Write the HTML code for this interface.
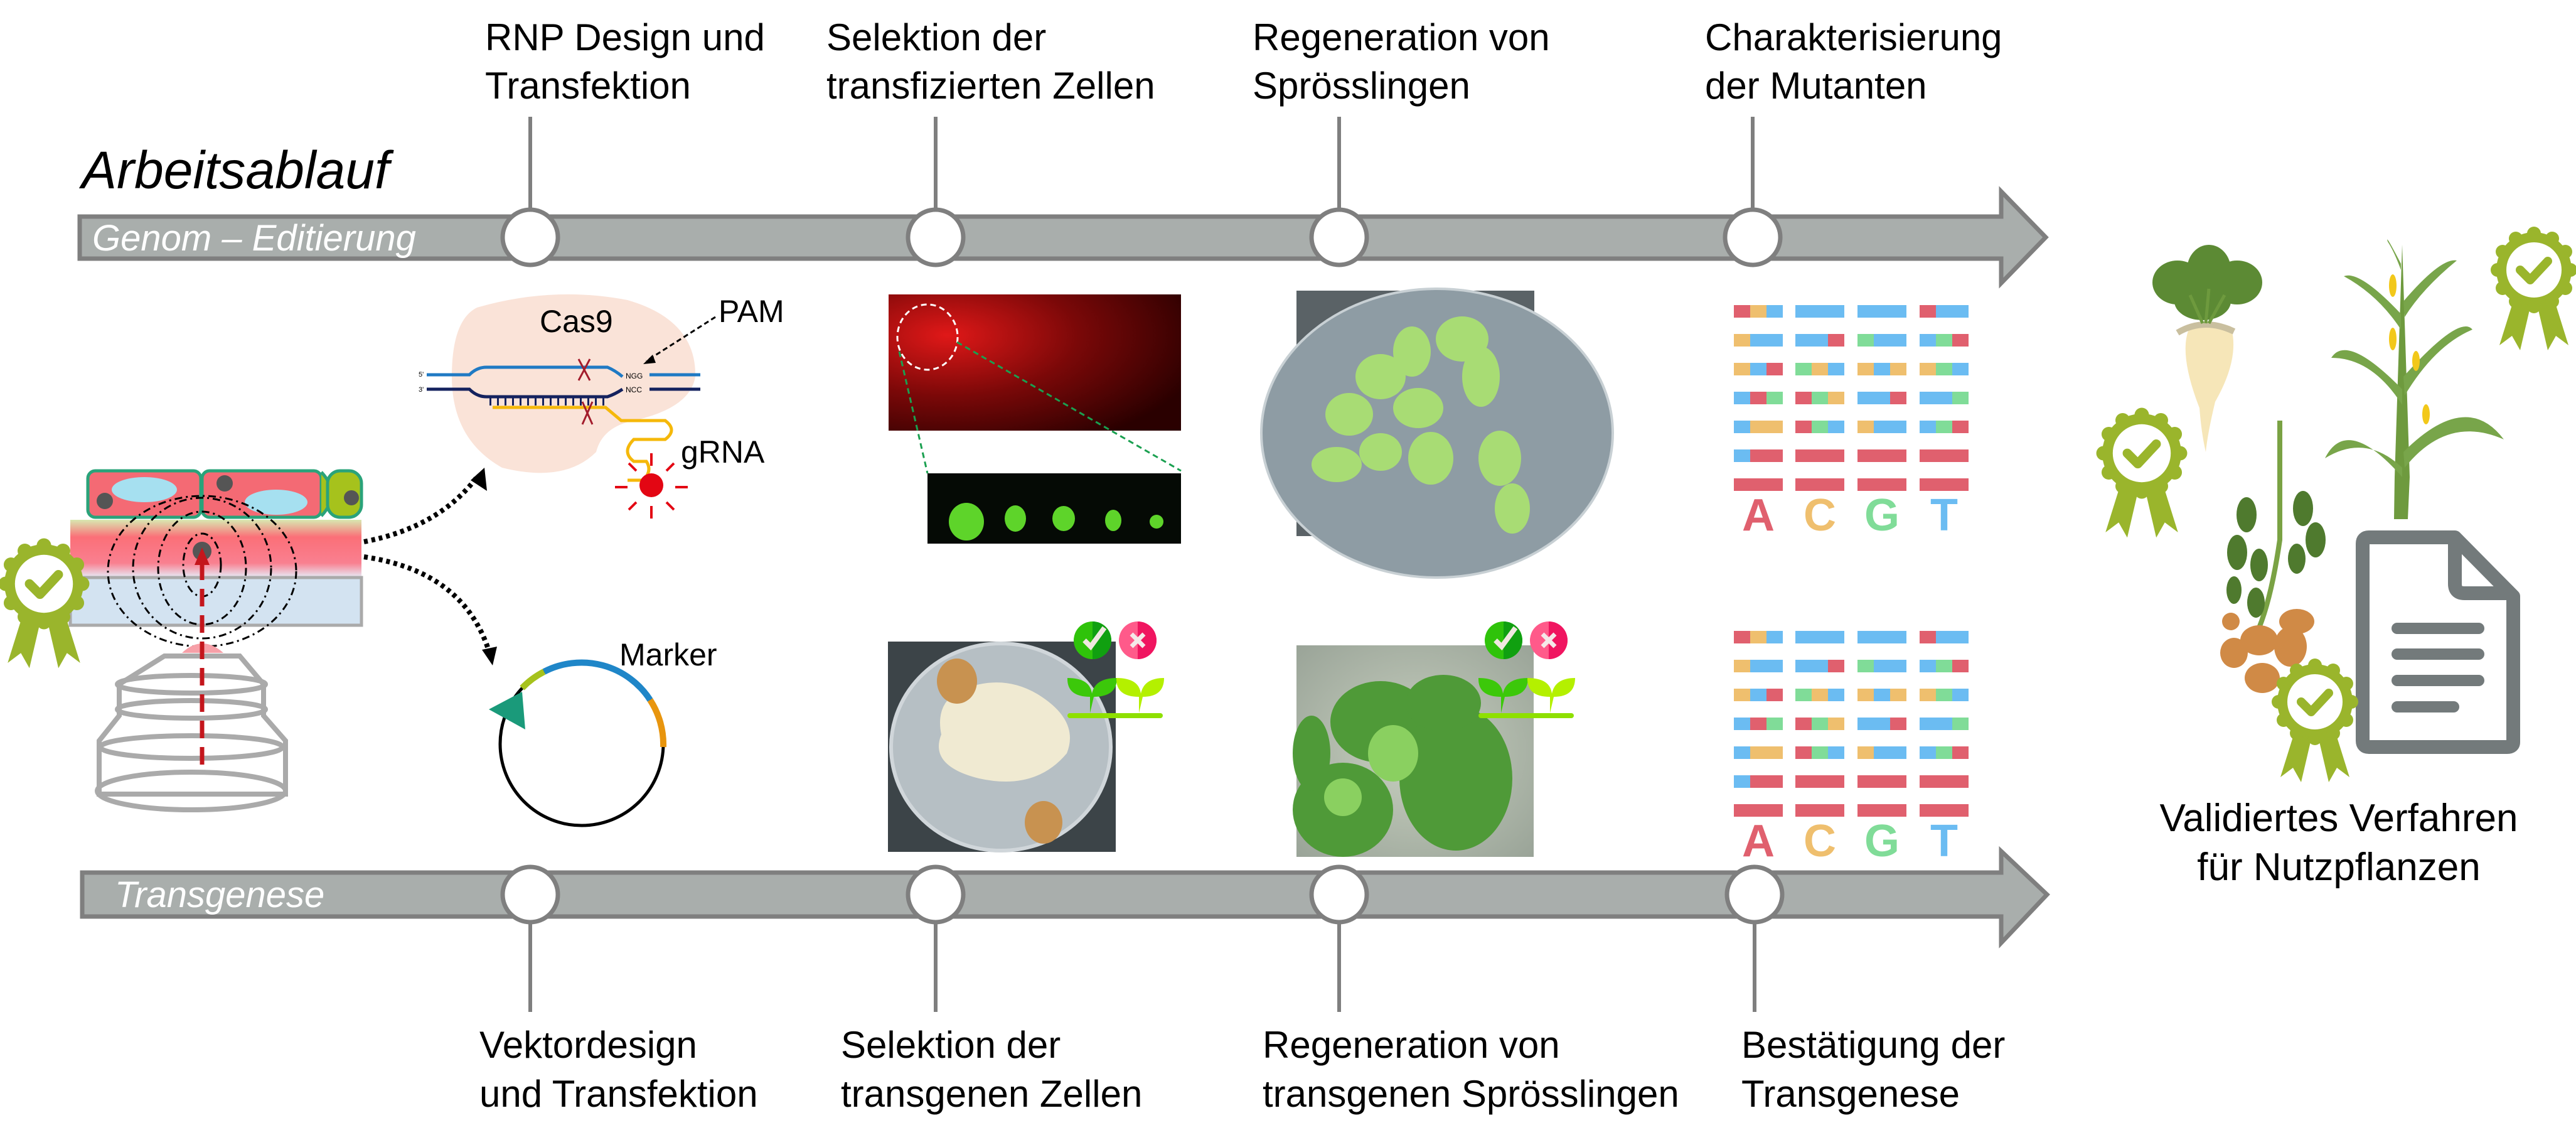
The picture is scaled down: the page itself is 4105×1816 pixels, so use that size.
<!DOCTYPE html>
<html><head><meta charset="utf-8"><style>
html,body{margin:0;padding:0;background:#fff}
svg{display:block}
text{font-family:"Liberation Sans",sans-serif}
</style></head><body>
<svg width="4105" height="1816" viewBox="0 0 4105 1816" xmlns="http://www.w3.org/2000/svg">
<defs>
<g id="ros">
  <g fill="#9ab52c">
    <polygon points="-30,40 -55,120 -35,105 -22,128 -5,55"/>
    <polygon points="30,40 55,120 35,105 22,128 5,55"/>
    <circle r="60"/>
    <circle cx="0" cy="-58" r="11"/><circle cx="29" cy="-50" r="11"/><circle cx="50" cy="-29" r="11"/><circle cx="58" cy="0" r="11"/>
    <circle cx="50" cy="29" r="11"/><circle cx="29" cy="50" r="11"/><circle cx="0" cy="58" r="11"/><circle cx="-29" cy="50" r="11"/>
    <circle cx="-50" cy="29" r="11"/><circle cx="-58" cy="0" r="11"/><circle cx="-50" cy="-29" r="11"/><circle cx="-29" cy="-50" r="11"/>
  </g>
  <circle r="44" fill="#fff"/>
  <polyline points="-22,0 -6,16 22,-14" fill="none" stroke="#9ab52c" stroke-width="14" stroke-linecap="round" stroke-linejoin="round"/>
</g>
</defs>

<text x="130" y="300" font-size="84" font-style="italic">Arbeitsablauf</text>

<polygon points="127,345 3189,345 3189,305 3260,378 3189,451 3189,412 127,412" fill="#a9aeac" stroke="#7f7f7f" stroke-width="7"/>
<text x="147" y="399" font-size="58" font-style="italic" fill="#fff">Genom – Editierung</text>
<polygon points="131,1390 3189,1390 3189,1356 3262,1425 3189,1502 3189,1460 131,1460" fill="#a9aeac" stroke="#7f7f7f" stroke-width="7"/>
<text x="183" y="1445" font-size="58" font-style="italic" fill="#fff">Transgenese</text>

<g stroke="#7f7f7f" stroke-width="6">
  <line x1="845" y1="186" x2="845" y2="335"/><line x1="1491" y1="186" x2="1491" y2="335"/>
  <line x1="2134" y1="186" x2="2134" y2="335"/><line x1="2793" y1="186" x2="2793" y2="335"/>
  <line x1="845" y1="1470" x2="845" y2="1612"/><line x1="1491" y1="1470" x2="1491" y2="1612"/>
  <line x1="2134" y1="1470" x2="2134" y2="1612"/><line x1="2796" y1="1470" x2="2796" y2="1612"/>
</g>
<g fill="#fff" stroke="#7f7f7f" stroke-width="7">
  <circle cx="845" cy="378" r="44"/><circle cx="1491" cy="378" r="44"/><circle cx="2134" cy="378" r="44"/><circle cx="2793" cy="378" r="44"/>
  <circle cx="845" cy="1425" r="44"/><circle cx="1491" cy="1425" r="44"/><circle cx="2134" cy="1425" r="44"/><circle cx="2796" cy="1425" r="44"/>
</g>

<g font-size="60" fill="#000">
  <text x="773" y="80">RNP Design und</text><text x="773" y="157">Transfektion</text>
  <text x="1317" y="80">Selektion der</text><text x="1317" y="157">transfizierten Zellen</text>
  <text x="1996" y="80">Regeneration von</text><text x="1996" y="157">Sprösslingen</text>
  <text x="2717" y="80">Charakterisierung</text><text x="2717" y="157">der Mutanten</text>
  <text x="764" y="1685">Vektordesign</text><text x="764" y="1763">und Transfektion</text>
  <text x="1340" y="1685">Selektion der</text><text x="1340" y="1763">transgenen Zellen</text>
  <text x="2012" y="1685">Regeneration von</text><text x="2012" y="1763">transgenen Sprösslingen</text>
  <text x="2775" y="1685">Bestätigung der</text><text x="2775" y="1763">Transgenese</text>
</g>

<rect x="140" y="750" width="180" height="74" rx="12" fill="#f46a74" stroke="#2aa37a" stroke-width="5"/>
<rect x="322" y="750" width="190" height="74" rx="12" fill="#f46a74" stroke="#2aa37a" stroke-width="5"/>
<path d="M512,752 Q545,787 512,822" fill="#a6c21c" stroke="#2aa37a" stroke-width="5"/>
<rect x="522" y="750" width="54" height="74" rx="20" fill="#a6c21c" stroke="#2aa37a" stroke-width="5"/>
<circle cx="560" cy="793" r="12" fill="#555"/>
<ellipse cx="230" cy="780" rx="52" ry="20" fill="#a6e0f0"/>
<ellipse cx="440" cy="800" rx="50" ry="20" fill="#a6e0f0"/>
<circle cx="167" cy="798" r="13" fill="#555"/><circle cx="358" cy="770" r="13" fill="#555"/>
<defs><linearGradient id="pk" x1="0" y1="0" x2="0" y2="1"><stop offset="0" stop-color="#d8e8b0"/><stop offset="0.3" stop-color="#fb6f78"/><stop offset="0.75" stop-color="#f98090"/><stop offset="1" stop-color="#e6ecf8"/></linearGradient></defs>
<rect x="112" y="828" width="464" height="92" fill="url(#pk)"/>
<rect x="112" y="920" width="464" height="76" fill="#d3e3f1" stroke="#aaa" stroke-width="5"/>
<g fill="none" stroke="#000" stroke-width="3" stroke-dasharray="12,6,3,6">
  <ellipse cx="322" cy="900" rx="30" ry="50"/><ellipse cx="322" cy="905" rx="70" ry="90"/><ellipse cx="322" cy="905" rx="110" ry="112"/><ellipse cx="322" cy="910" rx="150" ry="120"/>
</g>
<circle cx="322" cy="878" r="15" fill="#555"/>
<path d="M290,1040 Q322,1010 356,1040 Z" fill="#f7a0a8"/>
<g fill="none" stroke="#aaa" stroke-width="8">
  <path d="M262,1045 L382,1045 L420,1090 L420,1140 L455,1180 L455,1265 L158,1265 L158,1180 L190,1140 L190,1090 Z"/>
  <ellipse cx="305" cy="1090" rx="118" ry="14"/><ellipse cx="305" cy="1130" rx="118" ry="14"/>
  <ellipse cx="305" cy="1190" rx="145" ry="18"/><ellipse cx="305" cy="1260" rx="150" ry="30"/>
</g>
<line x1="322" y1="1218" x2="322" y2="890" stroke="#c4161c" stroke-width="7" stroke-dasharray="28,14"/>
<polygon points="310,900 334,900 322,872" fill="#c4161c"/>
<use href="#ros" transform="translate(70,930) scale(1.05)"/>

<path d="M580,863 Q700,840 760,760" fill="none" stroke="#000" stroke-width="8" stroke-dasharray="6,6"/>
<polygon points="750,765 772,745 776,782" fill="#000"/>
<path d="M580,887 Q740,910 780,1040" fill="none" stroke="#000" stroke-width="8" stroke-dasharray="6,6"/>
<polygon points="768,1035 792,1030 785,1060" fill="#000"/>

<path d="M760,490 Q880,455 1000,478 Q1110,510 1108,600 Q1100,650 1010,670 Q960,680 950,720 Q900,770 800,745 Q720,700 720,600 Q720,510 760,490 Z" fill="#fae3d8"/>
<text x="860" y="529" font-size="50">Cas9</text>
<text x="1145" y="513" font-size="50">PAM</text>
<text x="1085" y="737" font-size="50">gRNA</text>
<line x1="1140" y1="505" x2="1030" y2="575" stroke="#000" stroke-width="3" stroke-dasharray="8,5"/>
<polygon points="1025,580 1040,565 1045,578" fill="#000"/>
<path d="M680,597 L748,597 Q760,585 775,585 L968,585 Q980,590 992,600" fill="none" stroke="#1f7ac4" stroke-width="5"/>
<line x1="1035" y1="597" x2="1116" y2="597" stroke="#1f7ac4" stroke-width="5"/>
<path d="M680,620 L748,620 Q760,632 775,632 L968,632 Q980,628 992,620" fill="none" stroke="#14225e" stroke-width="5"/>
<line x1="1035" y1="620" x2="1116" y2="620" stroke="#14225e" stroke-width="5"/>
<line x1="780" y1="640" x2="965" y2="640" stroke="#14225e" stroke-width="12" stroke-dasharray="3,9"/>
<path d="M785,649 L965,649 L990,670 L1050,670" fill="none" stroke="#f5b80a" stroke-width="5"/>
<path d="M1050,670 L1060,670 Q1080,685 1060,700 L1010,700 Q990,720 1010,735 L1030,735 Q1040,750 1025,765 L1000,765" fill="none" stroke="#f5b80a" stroke-width="5"/>
<text x="667" y="600" font-size="11">5'</text><text x="667" y="624" font-size="11">3'</text>
<text x="997" y="603" font-size="12">NGG</text><text x="997" y="625" font-size="12">NCC</text>
<g stroke="#a31c2c" stroke-width="3"><line x1="922" y1="572" x2="940" y2="606"/><line x1="940" y1="572" x2="922" y2="606"/><line x1="928" y1="640" x2="944" y2="676"/><line x1="944" y1="640" x2="928" y2="676"/></g>
<circle cx="1038" cy="773" r="19" fill="#e30613"/>
<g stroke="#e30613" stroke-width="4">
  <line x1="980" y1="776" x2="1000" y2="776"/><line x1="1076" y1="776" x2="1096" y2="776"/>
  <line x1="1038" y1="722" x2="1038" y2="742"/><line x1="1038" y1="806" x2="1038" y2="826"/>
  <line x1="1002" y1="738" x2="1014" y2="750"/><line x1="1074" y1="738" x2="1062" y2="750"/>
  <line x1="1002" y1="812" x2="1014" y2="800"/><line x1="1074" y1="812" x2="1062" y2="800"/>
</g>

<circle cx="927" cy="1185" r="130" fill="none" stroke="#000" stroke-width="5"/>
<path d="M832,1096 A130,130 0 0 1 867,1070" fill="none" stroke="#a6c21c" stroke-width="10"/>
<path d="M867,1070 A130,130 0 0 1 1036,1115" fill="none" stroke="#1f86c8" stroke-width="10"/>
<path d="M1036,1115 A130,130 0 0 1 1057,1190" fill="none" stroke="#e8950e" stroke-width="10"/>
<polygon points="779,1130 832,1102 837,1162" fill="#1a9a7a"/>
<text x="987" y="1060" font-size="50">Marker</text>

<defs>
<radialGradient id="red" cx="0.2" cy="0.3" r="0.9"><stop offset="0" stop-color="#e01818"/><stop offset="0.5" stop-color="#7a0808"/><stop offset="1" stop-color="#2a0000"/></radialGradient>
<radialGradient id="dish" cx="0.5" cy="0.5" r="0.7"><stop offset="0" stop-color="#a8b2b8"/><stop offset="1" stop-color="#6c767c"/></radialGradient>
<radialGradient id="dish2" cx="0.5" cy="0.5" r="0.7"><stop offset="0" stop-color="#c8d0c0"/><stop offset="1" stop-color="#9aa498"/></radialGradient>
</defs>
<rect x="1416" y="469" width="466" height="217" fill="url(#red)"/>
<ellipse cx="1478" cy="537" rx="48" ry="52" fill="none" stroke="#fff" stroke-width="3" stroke-dasharray="9,6"/>
<line x1="1433" y1="560" x2="1478" y2="754" stroke="#1aa050" stroke-width="3" stroke-dasharray="9,6"/>
<line x1="1525" y1="545" x2="1882" y2="750" stroke="#1aa050" stroke-width="3" stroke-dasharray="9,6"/>
<rect x="1478" y="754" width="404" height="112" fill="#050a05"/>
<g fill="#5ed42a"><ellipse cx="1540" cy="831" rx="28" ry="30"/><ellipse cx="1618" cy="826" rx="17" ry="21"/><ellipse cx="1695" cy="826" rx="18" ry="20"/><ellipse cx="1774" cy="829" rx="13" ry="17"/><ellipse cx="1843" cy="831" rx="11" ry="11"/></g>

<rect x="2066" y="463" width="379" height="391" fill="#5a6266"/>
<ellipse cx="2290" cy="690" rx="280" ry="230" fill="#8e9ca4" stroke="#c8d0d4" stroke-width="4"/>
<g fill="#a8dc74">
<ellipse cx="2200" cy="600" rx="40" ry="36"/><ellipse cx="2150" cy="660" rx="38" ry="34"/><ellipse cx="2250" cy="560" rx="30" ry="40"/>
<ellipse cx="2330" cy="540" rx="42" ry="36"/><ellipse cx="2360" cy="600" rx="30" ry="48"/><ellipse cx="2260" cy="650" rx="40" ry="32"/>
<ellipse cx="2200" cy="720" rx="34" ry="30"/><ellipse cx="2130" cy="740" rx="40" ry="28"/><ellipse cx="2280" cy="730" rx="36" ry="42"/>
<ellipse cx="2390" cy="730" rx="34" ry="44"/><ellipse cx="2410" cy="810" rx="28" ry="40"/>
</g>

<rect x="1415" y="1022" width="363" height="335" fill="#3c4448"/>
<ellipse cx="1595" cy="1190" rx="175" ry="165" fill="#b6bfc4" stroke="#d0d6da" stroke-width="6"/>
<path d="M1530,1100 Q1600,1070 1660,1110 Q1720,1150 1700,1200 Q1650,1260 1560,1240 Q1480,1220 1500,1170 Q1490,1120 1530,1100Z" fill="#f0ead2"/>
<ellipse cx="1525" cy="1085" rx="32" ry="36" fill="#c89250"/>
<ellipse cx="1663" cy="1310" rx="30" ry="34" fill="#c89250"/>

<rect x="2066" y="1028" width="378" height="337" fill="url(#dish2)"/>
<g fill="#4f9a38"><ellipse cx="2200" cy="1150" rx="80" ry="65"/><ellipse cx="2140" cy="1290" rx="80" ry="75"/><ellipse cx="2320" cy="1240" rx="90" ry="115"/><ellipse cx="2300" cy="1120" rx="60" ry="45"/><ellipse cx="2090" cy="1200" rx="30" ry="60"/></g>
<g fill="#8ad060"><ellipse cx="2220" cy="1200" rx="40" ry="45"/><ellipse cx="2140" cy="1270" rx="30" ry="30"/></g>

<g id="icons">
<circle cx="1741" cy="1020" r="30" fill="#2fc30a"/><path d="M1741,990 A30,30 0 0 1 1741,1050 Z" fill="#10a010"/>
<polyline points="1728,1020 1738,1030 1760,1000" fill="none" stroke="#f0e8e0" stroke-width="8"/>
<circle cx="1813" cy="1020" r="30" fill="#ff5a8a"/><path d="M1813,990 A30,30 0 0 1 1813,1050 Z" fill="#f01560"/>
<g stroke="#f4e8e8" stroke-width="7"><line x1="1803" y1="1010" x2="1823" y2="1030"/><line x1="1823" y1="1010" x2="1803" y2="1030"/></g>
<rect x="1701" y="1136" width="152" height="8" rx="4" fill="#8ee000"/>
<path d="M1737,1136 L1737,1110 Q1700,1110 1701,1080 Q1737,1080 1740,1105 Q1745,1080 1780,1080 Q1780,1110 1743,1110" fill="#3cc80a"/>
<path d="M1815,1136 L1815,1110 Q1778,1110 1779,1080 Q1815,1080 1818,1105 Q1823,1080 1855,1080 Q1855,1110 1821,1110" fill="#b4f000"/>
</g>
<use href="#icons" transform="translate(655,0)"/>

<g id="grid1">
<g transform="translate(0,486)">
<rect x="2763" y="0" width="26" height="20" fill="#e0606e"/><rect x="2789" y="0" width="26" height="20" fill="#efbf6e"/><rect x="2815" y="0" width="26" height="20" fill="#6bbcf2"/>
<rect x="2861" y="0" width="78" height="20" fill="#6bbcf2"/><rect x="2960" y="0" width="78" height="20" fill="#6bbcf2"/>
<rect x="3059" y="0" width="26" height="20" fill="#e0606e"/><rect x="3085" y="0" width="52" height="20" fill="#6bbcf2"/>
</g>
<g transform="translate(0,532)">
<rect x="2763" y="0" width="26" height="20" fill="#efbf6e"/><rect x="2789" y="0" width="52" height="20" fill="#6bbcf2"/>
<rect x="2861" y="0" width="52" height="20" fill="#6bbcf2"/><rect x="2913" y="0" width="26" height="20" fill="#e0606e"/>
<rect x="2960" y="0" width="26" height="20" fill="#80dc98"/><rect x="2986" y="0" width="52" height="20" fill="#6bbcf2"/>
<rect x="3059" y="0" width="26" height="20" fill="#6bbcf2"/><rect x="3085" y="0" width="26" height="20" fill="#80dc98"/><rect x="3111" y="0" width="26" height="20" fill="#e0606e"/>
</g>
<g transform="translate(0,578)">
<rect x="2763" y="0" width="26" height="20" fill="#efbf6e"/><rect x="2789" y="0" width="26" height="20" fill="#6bbcf2"/><rect x="2815" y="0" width="26" height="20" fill="#e0606e"/>
<rect x="2861" y="0" width="26" height="20" fill="#80dc98"/><rect x="2887" y="0" width="26" height="20" fill="#efbf6e"/><rect x="2913" y="0" width="26" height="20" fill="#6bbcf2"/>
<rect x="2960" y="0" width="26" height="20" fill="#efbf6e"/><rect x="2986" y="0" width="26" height="20" fill="#6bbcf2"/><rect x="3012" y="0" width="26" height="20" fill="#efbf6e"/>
<rect x="3059" y="0" width="26" height="20" fill="#efbf6e"/><rect x="3085" y="0" width="26" height="20" fill="#80dc98"/><rect x="3111" y="0" width="26" height="20" fill="#6bbcf2"/>
</g>
<g transform="translate(0,624)">
<rect x="2763" y="0" width="26" height="20" fill="#6bbcf2"/><rect x="2789" y="0" width="26" height="20" fill="#e0606e"/><rect x="2815" y="0" width="26" height="20" fill="#80dc98"/>
<rect x="2861" y="0" width="26" height="20" fill="#e0606e"/><rect x="2887" y="0" width="26" height="20" fill="#80dc98"/><rect x="2913" y="0" width="26" height="20" fill="#efbf6e"/>
<rect x="2960" y="0" width="52" height="20" fill="#6bbcf2"/><rect x="3012" y="0" width="26" height="20" fill="#e0606e"/>
<rect x="3059" y="0" width="52" height="20" fill="#6bbcf2"/><rect x="3111" y="0" width="26" height="20" fill="#80dc98"/>
</g>
<g transform="translate(0,670)">
<rect x="2763" y="0" width="26" height="20" fill="#6bbcf2"/><rect x="2789" y="0" width="52" height="20" fill="#efbf6e"/>
<rect x="2861" y="0" width="26" height="20" fill="#e0606e"/><rect x="2887" y="0" width="26" height="20" fill="#80dc98"/><rect x="2913" y="0" width="26" height="20" fill="#6bbcf2"/>
<rect x="2960" y="0" width="26" height="20" fill="#efbf6e"/><rect x="2986" y="0" width="52" height="20" fill="#6bbcf2"/>
<rect x="3059" y="0" width="26" height="20" fill="#6bbcf2"/><rect x="3085" y="0" width="26" height="20" fill="#80dc98"/><rect x="3111" y="0" width="26" height="20" fill="#e0606e"/>
</g>
<g transform="translate(0,716)">
<rect x="2763" y="0" width="26" height="20" fill="#6bbcf2"/><rect x="2789" y="0" width="52" height="20" fill="#e0606e"/>
<rect x="2861" y="0" width="78" height="20" fill="#e0606e"/><rect x="2960" y="0" width="78" height="20" fill="#e0606e"/><rect x="3059" y="0" width="78" height="20" fill="#e0606e"/>
</g>
<g transform="translate(0,762)" fill="#e0606e">
<rect x="2763" y="0" width="78" height="20"/><rect x="2861" y="0" width="78" height="20"/><rect x="2960" y="0" width="78" height="20"/><rect x="3059" y="0" width="78" height="20"/>
</g>
<g font-size="72" font-weight="bold" text-anchor="middle">
<text x="2802" y="845" fill="#e0606e">A</text><text x="2900" y="845" fill="#efbf6e">C</text><text x="2999" y="845" fill="#80dc98">G</text><text x="3098" y="845" fill="#6bbcf2">T</text>
</g>
</g>
<use href="#grid1" transform="translate(0,519)"/>

<path d="M3505,650 Q3470,560 3490,520 Q3530,510 3555,520 Q3570,570 3530,640 Q3518,690 3515,720 Q3508,690 3505,650Z" fill="#f6e6b8"/>
<path d="M3470,530 Q3512,505 3560,528" fill="none" stroke="#c9bf9f" stroke-width="10"/>
<g fill="#5c8a34">
<ellipse cx="3470" cy="450" rx="40" ry="35"/><ellipse cx="3520" cy="430" rx="35" ry="40"/><ellipse cx="3565" cy="450" rx="40" ry="35"/><ellipse cx="3510" cy="480" rx="45" ry="30"/>
</g>
<g stroke="#6e9a3e" stroke-width="5"><line x1="3510" y1="515" x2="3490" y2="470"/><line x1="3515" y1="515" x2="3520" y2="460"/><line x1="3520" y1="515" x2="3545" y2="470"/></g>
<polygon points="3815,827 3837,827 3840,760 3828,390 3816,760" fill="#6e9a3e"/>
<g fill="#78a54a">
<path d="M3828,760 Q3740,660 3705,730 Q3770,690 3828,745Z"/>
<path d="M3830,720 Q3930,620 3990,700 Q3900,660 3832,745Z"/>
<path d="M3828,620 Q3740,530 3715,570 Q3780,570 3828,645Z"/>
<path d="M3830,600 Q3920,500 3940,525 Q3880,550 3832,630Z"/>
<path d="M3826,500 Q3760,430 3735,440 Q3790,470 3826,525Z"/>
<path d="M3830,480 Q3890,410 3915,415 Q3860,460 3832,505Z"/>
<path d="M3826,420 Q3800,370 3805,385 Q3815,400 3826,430Z"/>
</g>
<g fill="#f2c81a"><ellipse cx="3813" cy="455" rx="6" ry="18"/><ellipse cx="3813" cy="540" rx="6" ry="18"/><ellipse cx="3850" cy="575" rx="6" ry="16"/><ellipse cx="3866" cy="660" rx="6" ry="16"/></g>
<path d="M3633,670 L3633,860 Q3620,950 3600,1000" fill="none" stroke="#7aa244" stroke-width="8"/>
<g fill="#4f7a2e">
<ellipse cx="3580" cy="820" rx="16" ry="28"/><ellipse cx="3565" cy="880" rx="16" ry="28"/><ellipse cx="3600" cy="900" rx="14" ry="26"/>
<ellipse cx="3670" cy="810" rx="16" ry="28"/><ellipse cx="3690" cy="860" rx="16" ry="28"/><ellipse cx="3660" cy="890" rx="14" ry="24"/>
<ellipse cx="3595" cy="960" rx="14" ry="24"/><ellipse cx="3560" cy="940" rx="12" ry="22"/>
</g>
<g fill="#d08a46">
<ellipse cx="3560" cy="1040" rx="22" ry="24"/><ellipse cx="3600" cy="1020" rx="30" ry="24"/><ellipse cx="3605" cy="1080" rx="28" ry="24"/><ellipse cx="3650" cy="1030" rx="26" ry="32"/><ellipse cx="3660" cy="990" rx="28" ry="20"/><ellipse cx="3555" cy="990" rx="14" ry="14"/>
</g>
<path d="M3775,856 L3912,856 L4005,950 L4005,1182 Q4005,1190 3995,1190 L3775,1190 Q3765,1190 3765,1180 L3765,866 Q3765,856 3775,856 Z" fill="#fff" stroke="#737a7b" stroke-width="22" stroke-linejoin="round"/>
<path d="M3912,856 L3912,930 Q3912,945 3927,945 L4005,945" fill="none" stroke="#737a7b" stroke-width="22" stroke-linejoin="round"/>
<g stroke="#737a7b" stroke-width="18" stroke-linecap="round">
<line x1="3820" y1="1001" x2="3950" y2="1001"/><line x1="3820" y1="1042" x2="3950" y2="1042"/><line x1="3820" y1="1084" x2="3950" y2="1084"/><line x1="3820" y1="1126" x2="3910" y2="1126"/>
</g>
<use href="#ros" transform="translate(4038,430) scale(1.0)"/>
<use href="#ros" transform="translate(3413,722) scale(1.05)"/>
<use href="#ros" transform="translate(3689,1118) scale(1.0)"/>

<text x="3727" y="1324" font-size="62" text-anchor="middle">Validiertes Verfahren</text>
<text x="3727" y="1402" font-size="62" text-anchor="middle">für Nutzpflanzen</text>
</svg>
</body></html>
